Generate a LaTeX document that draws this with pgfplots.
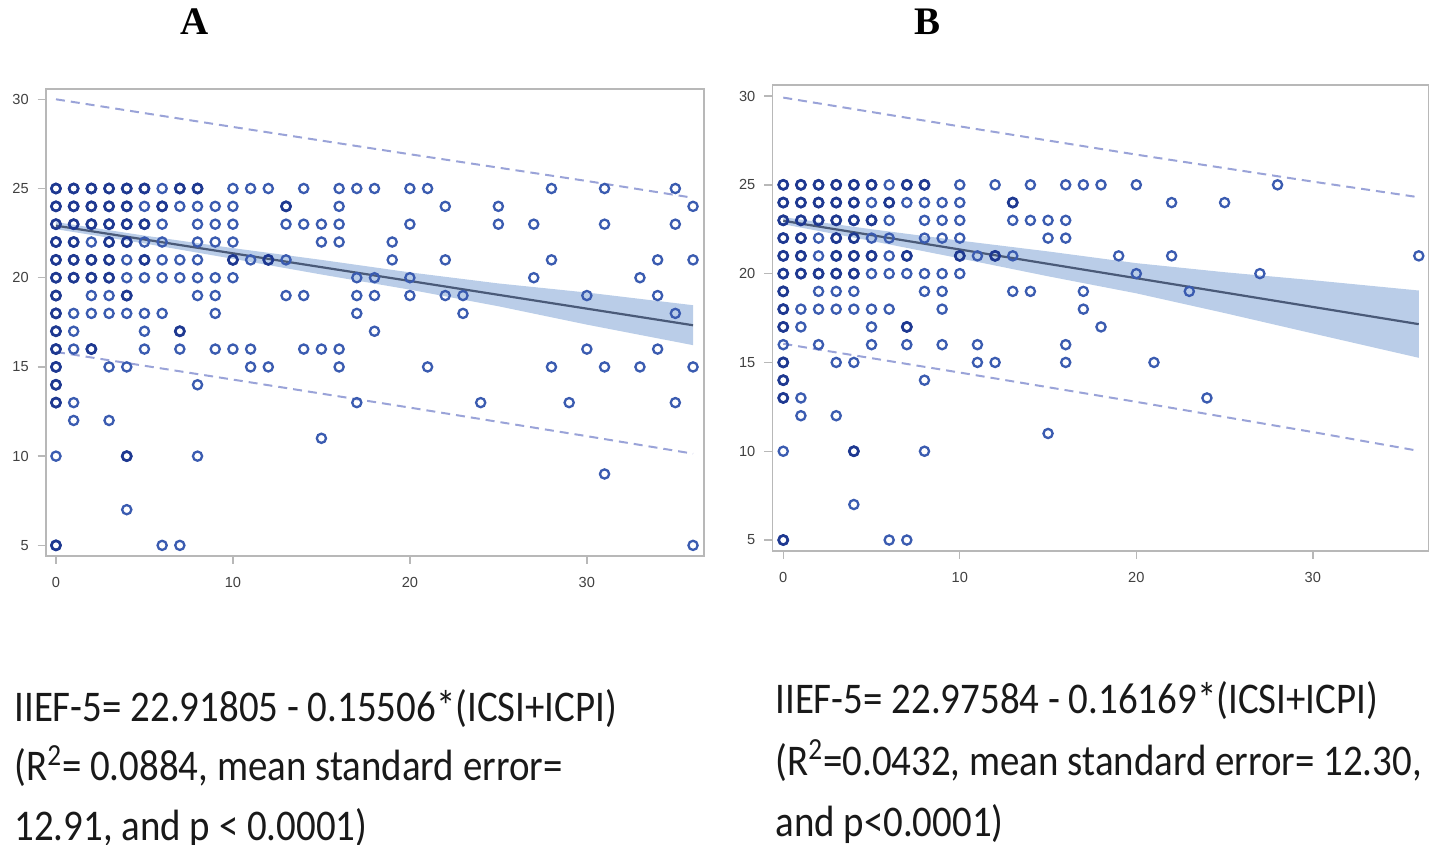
\documentclass[border=0pt]{standalone}
\usepackage{fontspec}
\setmainfont{Carlito}
\newfontfamily\eqfont[FakeStretch=0.888]{Carlito}
\newfontfamily\titlefont{Liberation Serif}
\newfontfamily\tickfont{Liberation Sans}
\usepackage{pgfplots}
\pgfplotsset{compat=1.18}

\definecolor{ring}{HTML}{3A5BB0}
\definecolor{ringdark}{HTML}{1E3890}
\definecolor{band}{HTML}{B3C8E6}
\definecolor{fitline}{HTML}{4A5A78}
\definecolor{pil}{HTML}{9AA3D8}
\definecolor{framec}{HTML}{B8B8B8}

\pgfplotsset{
  sasfit/.style={
    scale only axis,
    axis line style={framec, line width=0.8pt},
    tick style={framec, line width=0.7pt},
    tick align=outside,
    major tick length=4pt,
    xtick pos=bottom, ytick pos=left,
    xtick={0,10,20,30}, ytick={5,10,15,20,25,30},
    tick label style={font=\tickfont\fontsize{7.3}{8}\selectfont, text=black!75},
    xticklabel style={yshift=-3.5pt},
    yticklabel style={xshift=-1pt},
    /pgf/number format/assume math mode=true,
  },
  pts/.style={only marks, mark=o, color=ring, mark size=2.3pt, mark options={line width=1.15pt}},
  ptsdark/.style={only marks, mark=o, color=ringdark, mark size=2.3pt, mark options={line width=1.3pt}},
  clm/.style={fill=band, draw=none, fill opacity=0.9},
  pi/.style={pil, line width=1pt, dash pattern=on 4.5pt off 3pt},
  fit/.style={fitline, line width=1.1pt},
}

\begin{document}
\begin{tikzpicture}
\useasboundingbox (0,0) rectangle (717pt,-422.5pt);

% ---- panel A ----
\begin{axis}[sasfit, at={(22.85pt,-277.85pt)}, anchor=south west,
  width=329.15pt, height=233.2pt,
  xmin=-0.58, xmax=36.62, ymin=4.42, ymax=30.56]
\addplot[clm] coordinates {(0,23.12)(5,22.36)(10,21.66)(15,21.0)(20,20.3)(25,19.68)(30,19.17)(36,18.46)
  (36,16.22)(30,17.37)(25,18.40)(20,19.33)(15,20.18)(10,21.06)(5,21.92)(0,22.72)} -- cycle;
\addplot[pi] coordinates {(0,30.0)(10,28.45)(20,26.92)(30,25.42)(36,24.48)};
\addplot[pi] coordinates {(0,15.84)(10,14.29)(20,12.72)(30,11.12)(36,10.14)};
\addplot[pts] coordinates {
  (0,25)(1,25)(2,25)(3,25)(4,25)(5,25)(6,25)(7,25)(8,25)(10,25)(11,25)(12,25)(14,25)(16,25)(17,25)(18,25)(20,25)(21,25)(28,25)(31,25)(35,25)
  (0,24)(1,24)(2,24)(3,24)(4,24)(5,24)(6,24)(7,24)(8,24)(9,24)(10,24)(13,24)(16,24)(22,24)(25,24)(36,24)
  (0,23)(1,23)(2,23)(3,23)(4,23)(5,23)(6,23)(8,23)(9,23)(10,23)(13,23)(14,23)(15,23)(16,23)(20,23)(25,23)(27,23)(31,23)(35,23)
  (0,22)(1,22)(2,22)(3,22)(4,22)(5,22)(6,22)(8,22)(9,22)(10,22)(15,22)(16,22)(19,22)
  (0,21)(1,21)(2,21)(3,21)(4,21)(5,21)(6,21)(7,21)(8,21)(10,21)(11,21)(12,21)(13,21)(19,21)(22,21)(28,21)(34,21)(36,21)
  (0,20)(1,20)(2,20)(3,20)(4,20)(5,20)(6,20)(7,20)(8,20)(9,20)(10,20)(17,20)(18,20)(20,20)(27,20)(33,20)
  (0,19)(2,19)(3,19)(4,19)(8,19)(9,19)(13,19)(14,19)(17,19)(18,19)(20,19)(22,19)(23,19)(30,19)(34,19)
  (0,18)(1,18)(2,18)(3,18)(4,18)(5,18)(6,18)(9,18)(17,18)(23,18)(35,18)
  (0,17)(1,17)(5,17)(7,17)(18,17)
  (0,16)(1,16)(2,16)(5,16)(7,16)(9,16)(10,16)(11,16)(14,16)(15,16)(16,16)(30,16)(34,16)
  (0,15)(3,15)(4,15)(11,15)(12,15)(16,15)(21,15)(28,15)(31,15)(33,15)(36,15)
  (0,14)(8,14)
  (0,13)(1,13)(17,13)(24,13)(29,13)(35,13)
  (1,12)(3,12)
  (15,11)
  (0,10)(4,10)(8,10)
  (31,9)
  (4,7)
  (0,5)(6,5)(7,5)(36,5)
};
\addplot[ptsdark] coordinates {
  (0,25)(1,25)(2,25)(3,25)(4,25)(5,25)(7,25)(8,25)
  (0,24)(1,24)(2,24)(3,24)(4,24)(6,24)(13,24)
  (0,23)(1,23)(2,23)(3,23)(4,23)(5,23)
  (0,22)(1,22)(3,22)(4,22)
  (0,21)(1,21)(2,21)(3,21)(5,21)(10,21)(12,21)
  (0,20)(1,20)(2,20)(3,20)
  (0,19)(4,19)(0,18)(0,17)(7,17)(0,16)(2,16)(0,15)(0,14)(0,13)(4,10)(0,5)
};
\addplot[fit] coordinates {(0,22.918)(36,17.336)};
\end{axis}

% ---- panel B ----
\begin{axis}[sasfit, at={(386.15pt,-275.35pt)}, anchor=south west,
  width=328pt, height=232.85pt,
  xmin=-0.62, xmax=36.54, ymin=4.40, ymax=30.62]
\addplot[clm] coordinates {(0,23.18)(5,22.50)(10,21.86)(15,21.25)(20,20.59)(25,20.08)(30,19.63)(36,19.05)
  (36,15.26)(30,16.63)(25,17.78)(20,18.89)(15,19.85)(10,20.86)(5,21.84)(0,22.78)} -- cycle;
\addplot[pi] coordinates {(0,29.91)(10,28.29)(20,26.70)(30,25.18)(36,24.30)};
\addplot[pi] coordinates {(0,16.05)(10,14.43)(20,12.78)(30,11.08)(36,10.02)};
\addplot[pts] coordinates {
  (0,25)(1,25)(2,25)(3,25)(4,25)(5,25)(6,25)(7,25)(8,25)(10,25)(12,25)(14,25)(16,25)(17,25)(18,25)(20,25)(28,25)
  (0,24)(1,24)(2,24)(3,24)(4,24)(5,24)(6,24)(7,24)(8,24)(9,24)(10,24)(13,24)(22,24)(25,24)
  (0,23)(1,23)(2,23)(3,23)(4,23)(5,23)(6,23)(8,23)(9,23)(10,23)(13,23)(14,23)(15,23)(16,23)
  (0,22)(1,22)(2,22)(3,22)(4,22)(5,22)(6,22)(8,22)(9,22)(10,22)(15,22)(16,22)
  (0,21)(1,21)(2,21)(3,21)(4,21)(5,21)(6,21)(7,21)(10,21)(11,21)(12,21)(13,21)(19,21)(22,21)(36,21)
  (0,20)(1,20)(2,20)(3,20)(4,20)(5,20)(6,20)(7,20)(8,20)(9,20)(10,20)(20,20)(27,20)
  (0,19)(2,19)(3,19)(4,19)(8,19)(9,19)(13,19)(14,19)(17,19)(23,19)
  (0,18)(1,18)(2,18)(3,18)(4,18)(5,18)(6,18)(9,18)(17,18)
  (0,17)(1,17)(5,17)(7,17)(18,17)
  (0,16)(2,16)(5,16)(7,16)(9,16)(11,16)(16,16)
  (0,15)(3,15)(4,15)(11,15)(12,15)(16,15)(21,15)
  (0,14)(8,14)
  (0,13)(1,13)(24,13)
  (1,12)(3,12)
  (15,11)
  (0,10)(4,10)(8,10)
  (4,7)
  (0,5)(6,5)(7,5)
};
\addplot[ptsdark] coordinates {
  (0,25)(1,25)(2,25)(3,25)(4,25)(5,25)(7,25)(8,25)
  (0,24)(1,24)(2,24)(3,24)(4,24)(6,24)(13,24)
  (0,23)(1,23)(2,23)(3,23)(4,23)(5,23)
  (0,22)(1,22)(3,22)(4,22)
  (0,21)(1,21)(3,21)(4,21)(5,21)(7,21)(10,21)(12,21)
  (0,20)(1,20)(2,20)(3,20)(4,20)
  (0,19)(0,18)(0,17)(7,17)(0,15)(0,14)(0,13)(4,10)(0,5)
};
\addplot[fit] coordinates {(0,22.976)(36,17.155)};
\end{axis}

% ---- panel letters ----
\node[anchor=base, font=\titlefont\bfseries\fontsize{19.5}{22}\selectfont] at (97.5pt,-17.15pt) {A};
\node[anchor=base, font=\titlefont\bfseries\fontsize{19.5}{22}\selectfont] at (463.5pt,-17.15pt) {B};

% ---- equations ----
\begin{scope}[every node/.style={anchor=base west, inner sep=0pt, font=\eqfont\fontsize{21.9}{26}\selectfont, text=black!90}]
\node at (7pt,-360.85pt) {IIEF-5= 22.91805 - 0.15506*(ICSI+ICPI)};
\node at (7pt,-390.3pt) {(R\textsuperscript{2}= 0.0884, mean standard error=};
\node at (7pt,-420pt) {12.91, and p < 0.0001)};
\node at (387.5pt,-356.65pt) {IIEF-5= 22.97584 - 0.16169*(ICSI+ICPI)};
\node at (387.5pt,-387.5pt) {(R\textsuperscript{2}=0.0432, mean standard error= 12.30,};
\node at (387.5pt,-418.35pt) {and p<0.0001)};
\end{scope}
\end{tikzpicture}
\end{document}
